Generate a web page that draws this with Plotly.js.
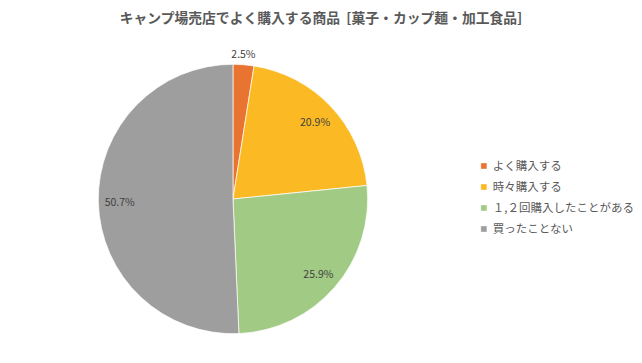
<!DOCTYPE html>
<html>
<head>
<meta charset="utf-8">
<script src="https://cdn.plot.ly/plotly-3.0.1.min.js"></script>
<style>html,body{margin:0;padding:0;background:#fff;}#chart{width:642px;height:363px;}</style>
</head>
<body>
<div id="chart"></div>
<script>
const categories = ["よく購入する", "時々購入する", "１,２回購入したことがある", "買ったことない"];
const values = [2.5, 20.9, 25.9, 50.7];
const colors = ["#E97432", "#FBB924", "#A1CA85", "#9E9E9E"];
const titleText = "キャンプ場売店でよく購入する商品  [菓子・カップ麺・加工食品]";

const font = "'Noto Sans CJK JP', 'Noto Sans', sans-serif";
const domain = {x: [0.1531, 0.5727], y: [0.0807, 0.8229]};
const txtColor = "#404040";

// main pie: slices + the outside label of the small slice
const pie = {
  type: "pie",
  labels: categories,
  values: values,
  sort: false,
  direction: "clockwise",
  rotation: 0,
  marker: {colors: colors, line: {color: "#ffffff", width: 0.7}},
  texttemplate: values.map((v, i) => i === 0 ? "%{value:.1f}%" : ""),
  textposition: values.map((v, i) => i === 0 ? "outside" : "none"),
  textfont: {family: font, size: 10.5, color: txtColor},
  hoverinfo: "label+percent",
  domain: domain
};

// transparent ring overlay to place inside labels near the rim
const ring = {
  type: "pie",
  labels: categories,
  values: values,
  sort: false,
  direction: "clockwise",
  rotation: 0,
  hole: 0.68,
  showlegend: false,
  marker: {colors: values.map(() => "rgba(0,0,0,0)"), line: {width: 0}},
  texttemplate: "%{value:.1f}%",
  textposition: values.map((v, i) => i === 0 ? "outside" : "inside"),
  insidetextorientation: "horizontal",
  textfont: {family: font, size: 10.5, color: values.map((v, i) => i === 0 ? "rgba(0,0,0,0)" : txtColor)},
  hoverinfo: "skip",
  domain: domain
};

const layout = {
  width: 642, height: 363,
  margin: {l: 0, r: 0, t: 0, b: 0},
  paper_bgcolor: "#ffffff",
  title: {text: "<b>" + titleText + "</b>", x: 0.5, xanchor: "center", y: 0.95, yanchor: "middle",
          font: {family: font, size: 13.8, color: "#595959"}},
  showlegend: true,
  legend: {x: 0.7054, y: 0.456, xanchor: "left", yanchor: "middle",
           font: {family: font, size: 11.5, color: "#595959"}, itemwidth: 30}
};

Plotly.newPlot("chart", [pie, ring], layout, {displayModeBar: false, staticPlot: true}).then(function(gd){
  // center the small slice's outside label over the slice (as in the reference)
  gd.querySelectorAll('.pielayer .trace').forEach(function(tr){
    const st = tr.querySelector('.slice .slicetext');
    if (st) st.setAttribute('transform', 'translate(-16,-4)');
  });

  gd.querySelectorAll('.legendpie').forEach(function(p){
    p.setAttribute('transform', (p.getAttribute('transform')||'') + ' translate(11,0) scale(0.5)');
  });
  const items = Array.from(gd.querySelectorAll('.legend .traces'));
  const ys = items.map(function(t){
    const m = /translate\(([^,]+),\s*([^)]+)\)/.exec(t.getAttribute('transform') || '');
    return m ? [parseFloat(m[1]), parseFloat(m[2])] : [0, 0];
  });
  if (ys.length) {
    const mean = ys.reduce((s, p) => s + p[1], 0) / ys.length;
    items.forEach(function(t, i){
      const nx = ys[i][0], ny = mean + (ys[i][1] - mean) * 21 / 19;
      t.setAttribute('transform', 'translate(' + nx + ',' + ny + ')');
    });
  }
});
</script>
</body>
</html>
